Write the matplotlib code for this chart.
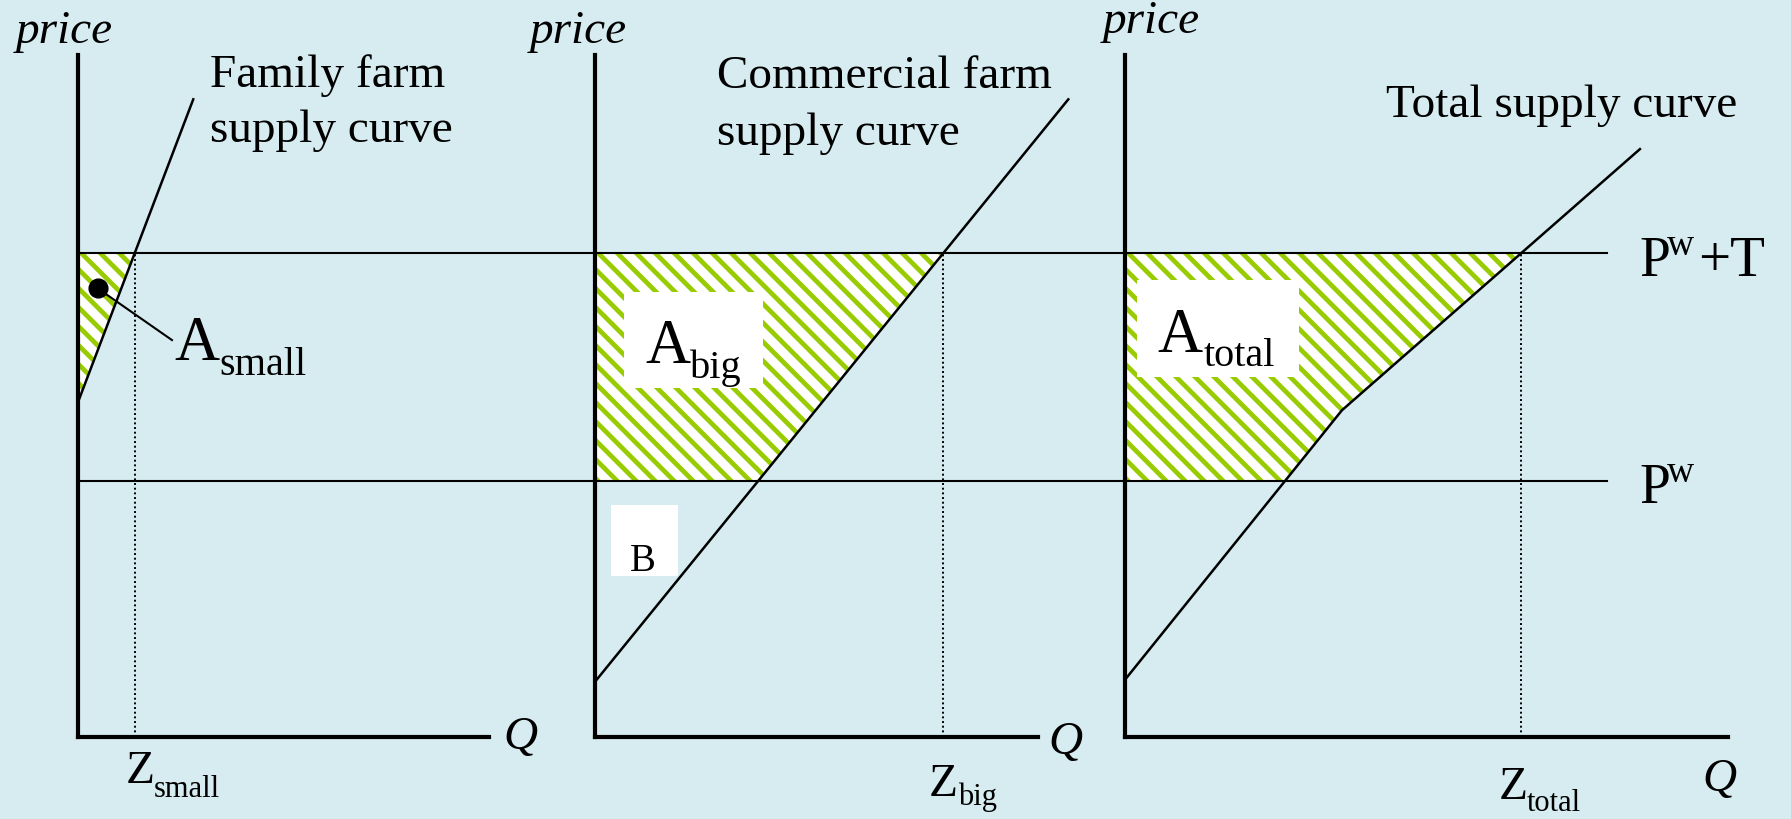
import numpy as np
import matplotlib.pyplot as plt
from matplotlib.patches import Polygon, Rectangle
from matplotlib.collections import LineCollection

plt.rcParams['font.family'] = ['Liberation Serif', 'DejaVu Serif']

W, H = 1791, 819
BG = '#d6ecf0'
GREEN = '#99cc00'
S = 68.2          # pixels per unit, same on both axes

# price levels
p_world = 3.75
p_tariff = 7.10

# family farm supply
small_q = [0.0, 1.69]
small_p = [4.91, 9.35]
z_small = 0.83

# commercial farm supply
big_q = [0.0, 6.94]
big_p = [0.81, 9.35]
z_big = 5.10
big_q_at_pw = 2.39

# total supply (kinked)
total_q = [0.0, 3.18, 7.55]
total_p = [0.84, 4.79, 8.62]
z_total = 5.81
total_q_at_pw = 2.34

q_max = [6.03, 6.50, 8.84]
p_max = 10.0
origin_px = [78, 595, 1125]
base_px = 737
price_line_end_px = 1607

fig = plt.figure(figsize=(W / 100, H / 100), dpi=100, facecolor=BG)

axes = []
for ox, qm in zip(origin_px, q_max):
    ax = fig.add_axes([ox / W, (H - base_px) / H, qm * S / W, p_max * S / H])
    ax.set_xlim(0, qm)
    ax.set_ylim(0, p_max)
    ax.patch.set_visible(False)
    for side in ['top', 'right']:
        ax.spines[side].set_visible(False)
    for side in ['left', 'bottom']:
        ax.spines[side].set_linewidth(3)
    ax.set_xticks([])
    ax.set_yticks([])
    axes.append(ax)
ax1, ax2, ax3 = axes
ax1.set_zorder(2)


def hatched(ax, verts):
    poly = Polygon(verts, closed=True, fc='white', ec='none', zorder=1)
    ax.add_patch(poly)
    step = 19 / S
    segs = [[(c - 14, 14), (c + 2, -2)] for c in np.arange(-4, 30, step)]
    lc = LineCollection(segs, colors=GREEN, linewidths=3.4, zorder=1.5)
    ax.add_collection(lc)
    lc.set_clip_path(poly)


# shaded areas
hatched(ax1, [(0, p_tariff), (z_small, p_tariff), (0, small_p[0])])
hatched(ax2, [(0, p_world), (0, p_tariff), (z_big, p_tariff), (big_q_at_pw, p_world)])
hatched(ax3, [(0, p_world), (0, p_tariff), (z_total, p_tariff),
              (total_q[1], total_p[1]), (total_q_at_pw, p_world)])

# world price lines across all panels
line_end = (price_line_end_px - origin_px[0]) / S
for p in [p_tariff, p_world]:
    ax1.plot([0, line_end], [p, p], color='black', lw=1.5, clip_on=False, zorder=3)

# supply curves
ax1.plot(small_q, small_p, color='black', lw=1.8, zorder=3, clip_on=False)
ax2.plot(big_q, big_p, color='black', lw=1.8, zorder=3, clip_on=False)
ax3.plot(total_q, total_p, color='black', lw=1.8, zorder=3, clip_on=False)

# dotted quantity lines
for ax, z in [(ax1, z_small), (ax2, z_big), (ax3, z_total)]:
    ax.plot([z, z], [0, p_tariff], color='black', lw=1.4,
            linestyle=(0, (1.0, 1.4)), zorder=2)

# pointer for A_small
ax1.plot([0.287, 1.378], [6.58, 5.82], color='black', lw=1.5, zorder=4)
ax1.plot([0.287], [6.58], 'o', color='black', ms=13.5, zorder=4)


def box(x0, y0, x1, y1):
    fig.add_artist(Rectangle((x0 / W, 1 - y1 / H), (x1 - x0) / W, (y1 - y0) / H,
                             transform=fig.transFigure, fc='white', ec='none',
                             zorder=2.5))


box(624, 292, 763, 388)
box(1137, 280, 1299, 377)
box(611, 505, 678, 576)


def ftext(x, y, s, size, **kw):
    fig.text(x / W, 1 - y / H, s, fontsize=size, va='baseline', zorder=4, **kw)


# axis labels
ftext(64, 43, 'price', 34, style='italic', ha='center')
ftext(578, 43, 'price', 34, style='italic', ha='center')
ftext(1151, 33, 'price', 34, style='italic', ha='center')
ftext(503, 749, 'Q', 34, style='italic')
ftext(1048, 754, 'Q', 34, style='italic')
ftext(1702, 791, 'Q', 34, style='italic')

# curve labels
ftext(210, 87, 'Family farm', 34)
ftext(210, 142, 'supply curve', 34)
ftext(717, 88, 'Commercial farm', 34)
ftext(717, 145, 'supply curve', 34)
ftext(1386, 117, 'Total supply curve', 34)

# area labels
ftext(174, 360, 'A', 45)
ftext(219, 375, 'small', 29)
ftext(645, 363, 'A', 45)
ftext(690, 378, 'big', 29)
ftext(1157, 352, 'A', 45)
ftext(1204, 366, 'total', 29)
ftext(630, 571, 'B', 28)

# quantity labels
ftext(126, 783, 'Z', 34)
ftext(154, 797, 'small', 22)
ftext(929, 796, 'Z', 34)
ftext(958, 805, 'big', 22)
ftext(1499, 799, 'Z', 34)
ftext(1527, 811, 'total', 22)

# price labels
ftext(1639, 276, 'P', 40)
ftext(1667, 255, 'w', 27)
ftext(1698, 276, '+T', 41)
ftext(1639, 503, 'P', 40)
ftext(1667, 482, 'w', 27)

fig.savefig('out.png', dpi=100, facecolor=BG)
